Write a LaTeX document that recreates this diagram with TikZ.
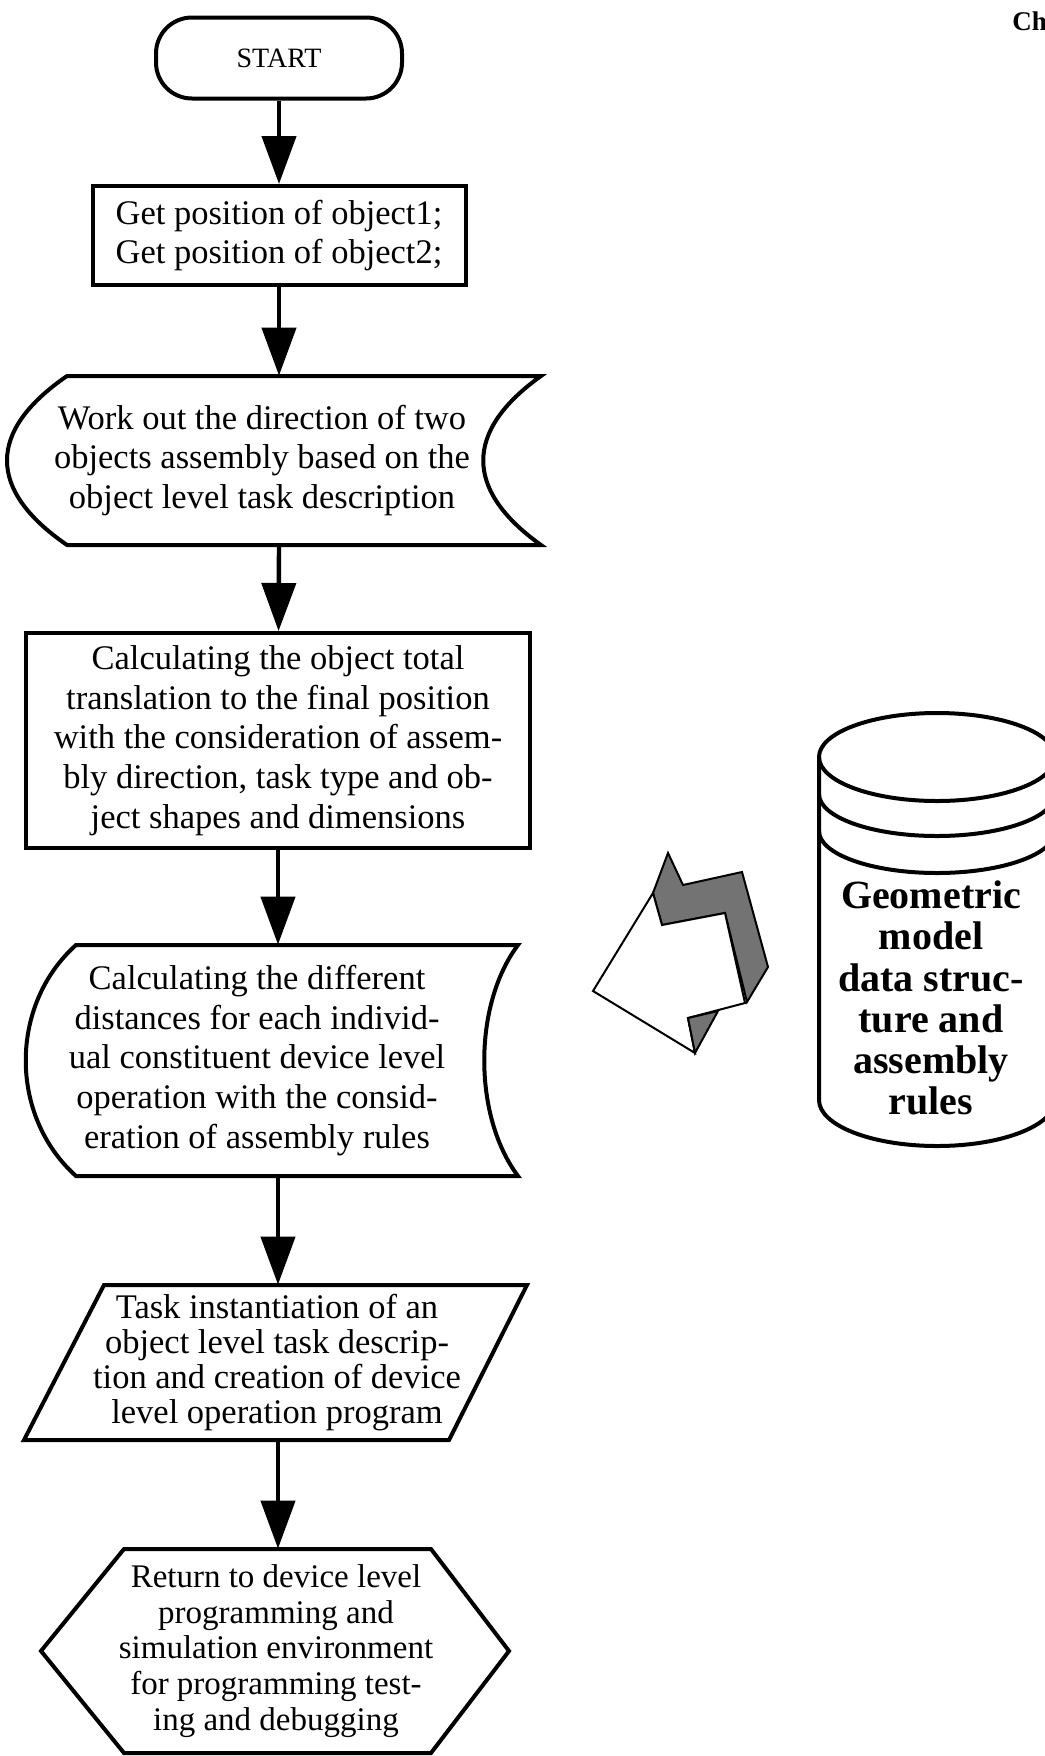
\documentclass[tikz,border=0pt]{standalone}
\usepackage{fontspec}
\setmainfont{Liberation Serif}
\usetikzlibrary{arrows.meta}
\tikzset{
  txt/.style={align=center,inner sep=0pt,font=\fontsize{17.25}{19.8}\selectfont},
  stepbox/.style={txt,draw,line width=2pt},
  outline/.style={line width=2pt},
  flow/.style={line width=2.2pt,-{Triangle[length=24pt,width=17pt]}},
  bolt/.style={line width=1pt,line join=miter}
}
\begin{document}
\begin{tikzpicture}[x=0.5pt,y=-0.5pt]
\useasboundingbox (0,0) rectangle (1044,1756);
% flow chart column
\node[stepbox,rounded corners=18pt,minimum width=123pt,minimum height=40.5pt,font=\fontsize{14}{16}\selectfont] (start) at (279,58) {START};
\node[stepbox,minimum width=186.5pt,minimum height=49.5pt] (pos) at (279,235.5) {Get position of object1;\\Get position of object2;};
\node[txt,minimum height=84.5pt] (dir) at (262,460.5) {Work out the direction of two\\objects assembly based on the\\object level task description};
\draw[outline] (67,376) -- (541,376) .. controls (464,431) and (464,490) .. (541,545) -- (67,545) .. controls (-13,490) and (-13,431) .. cycle;
\node[stepbox,minimum width=252pt,minimum height=107.5pt] (trans) at (278,740.5) {Calculating the object total\\translation to the final position\\with the consideration of assem-\\bly direction, task type and ob-\\ject shapes and dimensions};
\node[txt,minimum height=115.5pt] (dist) at (257,1060.5) {Calculating the different\\distances for each individ-\\ual constituent device level\\operation with the consid-\\eration of assembly rules};
\draw[outline] (76,945) -- (518,945) .. controls (473,1005) and (473,1116) .. (518,1176) -- (76,1176) .. controls (9,1116) and (9,1005) .. cycle;
\node[txt,minimum height=77.5pt,font=\fontsize{17.25}{17.5}\selectfont] (inst) at (277,1362.5) {Task instantiation of an\\object level task descrip-\\tion and creation of device\\level operation program};
\draw[outline] (104,1285) -- (527,1285) -- (449,1440) -- (24,1440) -- cycle;
\node[txt,minimum height=102pt,font=\fontsize{16.5}{17.8}\selectfont] (ret) at (276,1651) {Return to device level\\programming and\\simulation environment\\for programming test-\\ing and debugging};
\draw[outline] (124,1549) -- (431,1549) -- (509,1651) -- (431,1753) -- (124,1753) -- (41,1651) -- cycle;
\draw[flow] (start) -- (pos);
\draw[flow] (pos) -- (pos |- dir.north);
\draw[flow] (pos |- dir.south) -- (trans);
\draw[flow] (trans) -- (trans |- dist.north);
\draw[flow] (trans |- dist.south) -- (trans |- inst.north);
\draw[flow] (trans |- inst.south) -- (trans |- ret.north);
% data base
\draw[outline] (937,757) ellipse [x radius=59pt,y radius=22pt];
\draw[outline] (819,757) -- (819,1100) arc[start angle=180,end angle=360,x radius=59pt,y radius=23pt] -- (1055,757);
\foreach \y in {794,831} \draw[outline] (819,\y) arc[start angle=180,end angle=360,x radius=59pt,y radius=21pt];
\node[txt,font=\fontsize{20}{20.6}\selectfont\bfseries] (geo) at (931,998) {Geometric\\model\\data struc-\\ture and\\assembly\\rules};
% exchange arrow
\draw[bolt,fill=black!55] (668,853) -- (683,885) -- (742,872) -- (768,967) -- (747,1002) -- (725,913) -- (662,925) -- (653,893) -- cycle;
\draw[bolt,fill=white] (593,991) -- (653,893) -- (662,925) -- (725,913) -- (745,1003) -- (688,1018) -- (695,1053) -- cycle;
\draw[bolt,fill=black!55] (688,1018) -- (718,1011) -- (695,1053) -- cycle;
\node[anchor=base west,inner sep=0pt,font=\fontsize{13.5}{16}\selectfont\bfseries] (ch) at (1012,31) {Ch};
\end{tikzpicture}
\end{document}
